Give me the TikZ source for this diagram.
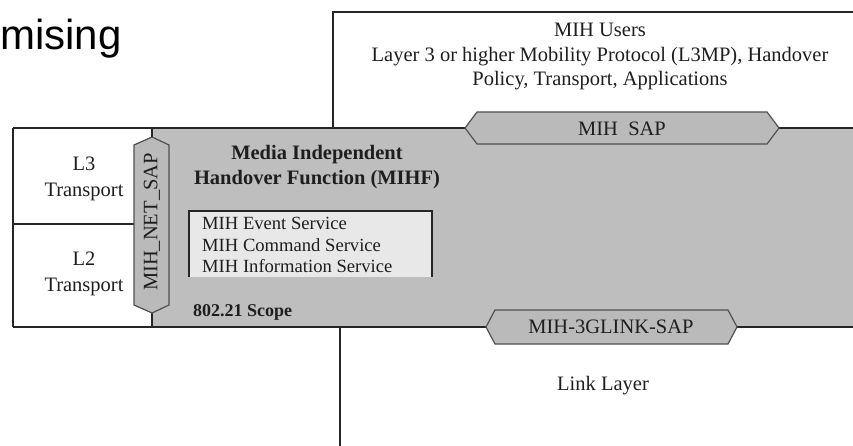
\documentclass[tikz,border=0pt]{standalone}
\usepackage{fontspec}
\setmainfont{Liberation Serif}
\newfontfamily\slidefont{Liberation Sans}
\usepackage{tikz}

\definecolor{bandgray}{RGB}{190,190,190}
\definecolor{sapgray}{RGB}{186,186,186}
\definecolor{sapedge}{RGB}{80,80,80}
\definecolor{boxgray}{RGB}{232,232,232}
\definecolor{inkgray}{RGB}{30,30,30}

\tikzset{
  frame/.style={line width=1.4pt,black!85},
  sapline/.style={line width=1.2pt,draw=sapedge,fill=sapgray,line join=miter},
  label/.style={inner sep=0pt,text=inkgray,font=\fontsize{20.5}{24.5}\selectfont},
}

\begin{document}
\begin{tikzpicture}[x=1pt,y=-1pt]

        \useasboundingbox (0,0) rectangle (853,446);

        \def\bandTop{128}
        \def\bandBot{327}
        \def\netX{152}

        \fill[bandgray] (\netX,\bandTop) rectangle (853,\bandBot);

        \fill[boxgray] (189,211) rectangle (432,277);
        \draw[frame] (189,277) -- (189,211) -- (432,211) -- (432,277);

        \draw[frame] (13,\bandTop) -- (465,\bandTop);
        \draw[frame] (779,\bandTop) -- (853,\bandTop);
        \draw[frame] (13,\bandBot) -- (486,\bandBot);
        \draw[frame] (737,\bandBot) -- (853,\bandBot);
        \draw[frame] (13,\bandTop) -- (13,\bandBot);
        \draw[frame] (13,224) -- (134,224);

        \draw[frame] (333,\bandTop) -- (333,12) -- (853,12);
        \draw[frame] (340,\bandBot) -- (340,446);

        \draw[frame] (\netX,\bandTop) -- (\netX,137);
        \draw[frame] (\netX,313) -- (\netX,\bandBot);

        \draw[sapline] (\netX,137) -- (169,145) -- (169,305) -- (\netX,313) -- (134,305) -- (134,145) -- cycle;
        \draw[sapline] (465,\bandTop) -- (477,112) -- (767,112) -- (779,\bandTop) -- (767,144) -- (477,144) -- cycle;
        \draw[sapline] (486,\bandBot) -- (495,310) -- (728,310) -- (737,\bandBot) -- (728,344) -- (495,344) -- cycle;

        \node[inner sep=0pt,anchor=base west,font=\slidefont\fontsize{42}{48}\selectfont] (slidetitle) at (0,50) {mising};

        \node[label,align=center] (users) at (600,57) {MIH Users\\Layer 3 or higher Mobility Protocol (L3MP), Handover\\Policy, Transport, Applications};
        \node[label,align=center,font=\bfseries\fontsize{20.5}{25}\selectfont] (mihf) at (317,167) {Media Independent\\Handover Function (MIHF)};
        \node[label,align=left,anchor=west,font=\fontsize{18.6}{21.5}\selectfont] (services) at (202,245) {MIH Event Service\\MIH Command Service\\MIH Information Service};
        \node[label,anchor=west,font=\bfseries\fontsize{18}{20}\selectfont] (scope) at (193,312) {802.21 Scope};

        \node[label,align=center,font=\fontsize{20.5}{26}\selectfont] (lthree) at (84,179) {L3\\Transport};
        \node[label,align=center,font=\fontsize{20.5}{26}\selectfont] (ltwo) at (84,274) {L2\\Transport};

        \node[label,rotate=90] (netsap) at (\netX,222) {MIH\_NET\_SAP};
        \node[label] (mihsap) at (622,129) {MIH~~SAP};
        \node[label] (linksap) at (611,327) {MIH-3GLINK-SAP};
        \node[label] (linklayer) at (603,386) {Link Layer};

        \end{tikzpicture}
\end{document}
